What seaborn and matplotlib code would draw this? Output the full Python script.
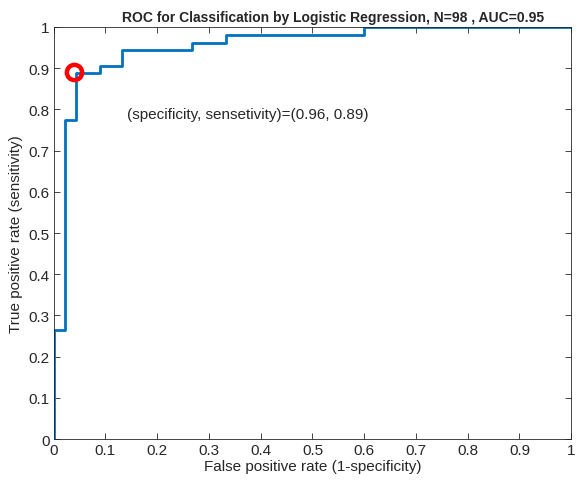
import matplotlib
matplotlib.use('Agg')
import matplotlib.pyplot as plt
import seaborn as sns
import pandas as pd

# ROC corner points (steps-pre: vertical first, then horizontal)
fpr = [0.0, 0.022, 0.044, 0.089, 0.133, 0.267, 0.333, 0.600, 1.0]
tpr = [0.0, 0.264, 0.774, 0.887, 0.906, 0.943, 0.962, 0.981, 1.0]
op_point = (0.04, 0.89)
op_label = '(specificity, sensetivity)=(0.96, 0.89)'
ticks = [0, 0.1, 0.2, 0.3, 0.4, 0.5, 0.6, 0.7, 0.8, 0.9, 1]
tick_labels = ['0', '0.1', '0.2', '0.3', '0.4', '0.5', '0.6', '0.7', '0.8', '0.9', '1']

sns.set_style('ticks')
plt.rcParams['font.family'] = ['Liberation Sans', 'DejaVu Sans']

df = pd.DataFrame({'fpr': fpr, 'tpr': tpr})

fig = plt.figure(figsize=(5.77, 4.81), dpi=100)
ax = fig.add_axes([0.093, 0.085, 0.897, 0.857])

sns.lineplot(data=df, x='fpr', y='tpr', sort=False, estimator=None,
             drawstyle='steps-pre', color='#0072BD', linewidth=2, ax=ax)
ax.plot(op_point[0], op_point[1], 'o', markersize=11, markerfacecolor='none',
        markeredgecolor='#FF0000', markeredgewidth=3.2)
ax.text(0.141, 0.789, op_label, fontsize=11, va='center', ha='left')

ax.set_xlim(0, 1)
ax.set_ylim(0, 1)
ax.set_xticks(ticks)
ax.set_xticklabels(tick_labels)
ax.set_yticks(ticks)
ax.set_yticklabels(tick_labels)
ax.tick_params(direction='in', top=True, right=True, labelsize=11, length=4,
               width=0.6, colors='#262626', pad=3)
for s in ax.spines.values():
    s.set_visible(True)
    s.set_linewidth(0.6)
    s.set_color('#262626')

ax.set_xlabel('False positive rate (1-specificity)', fontsize=11, labelpad=1)
ax.set_ylabel('True positive rate (sensitivity)', fontsize=11, labelpad=4)
ax.set_title('ROC for Classification by Logistic Regression, N=98 , AUC=0.95',
             fontsize=10, fontweight='bold', pad=4, x=0.54)

fig.savefig('out.png', dpi=100)
